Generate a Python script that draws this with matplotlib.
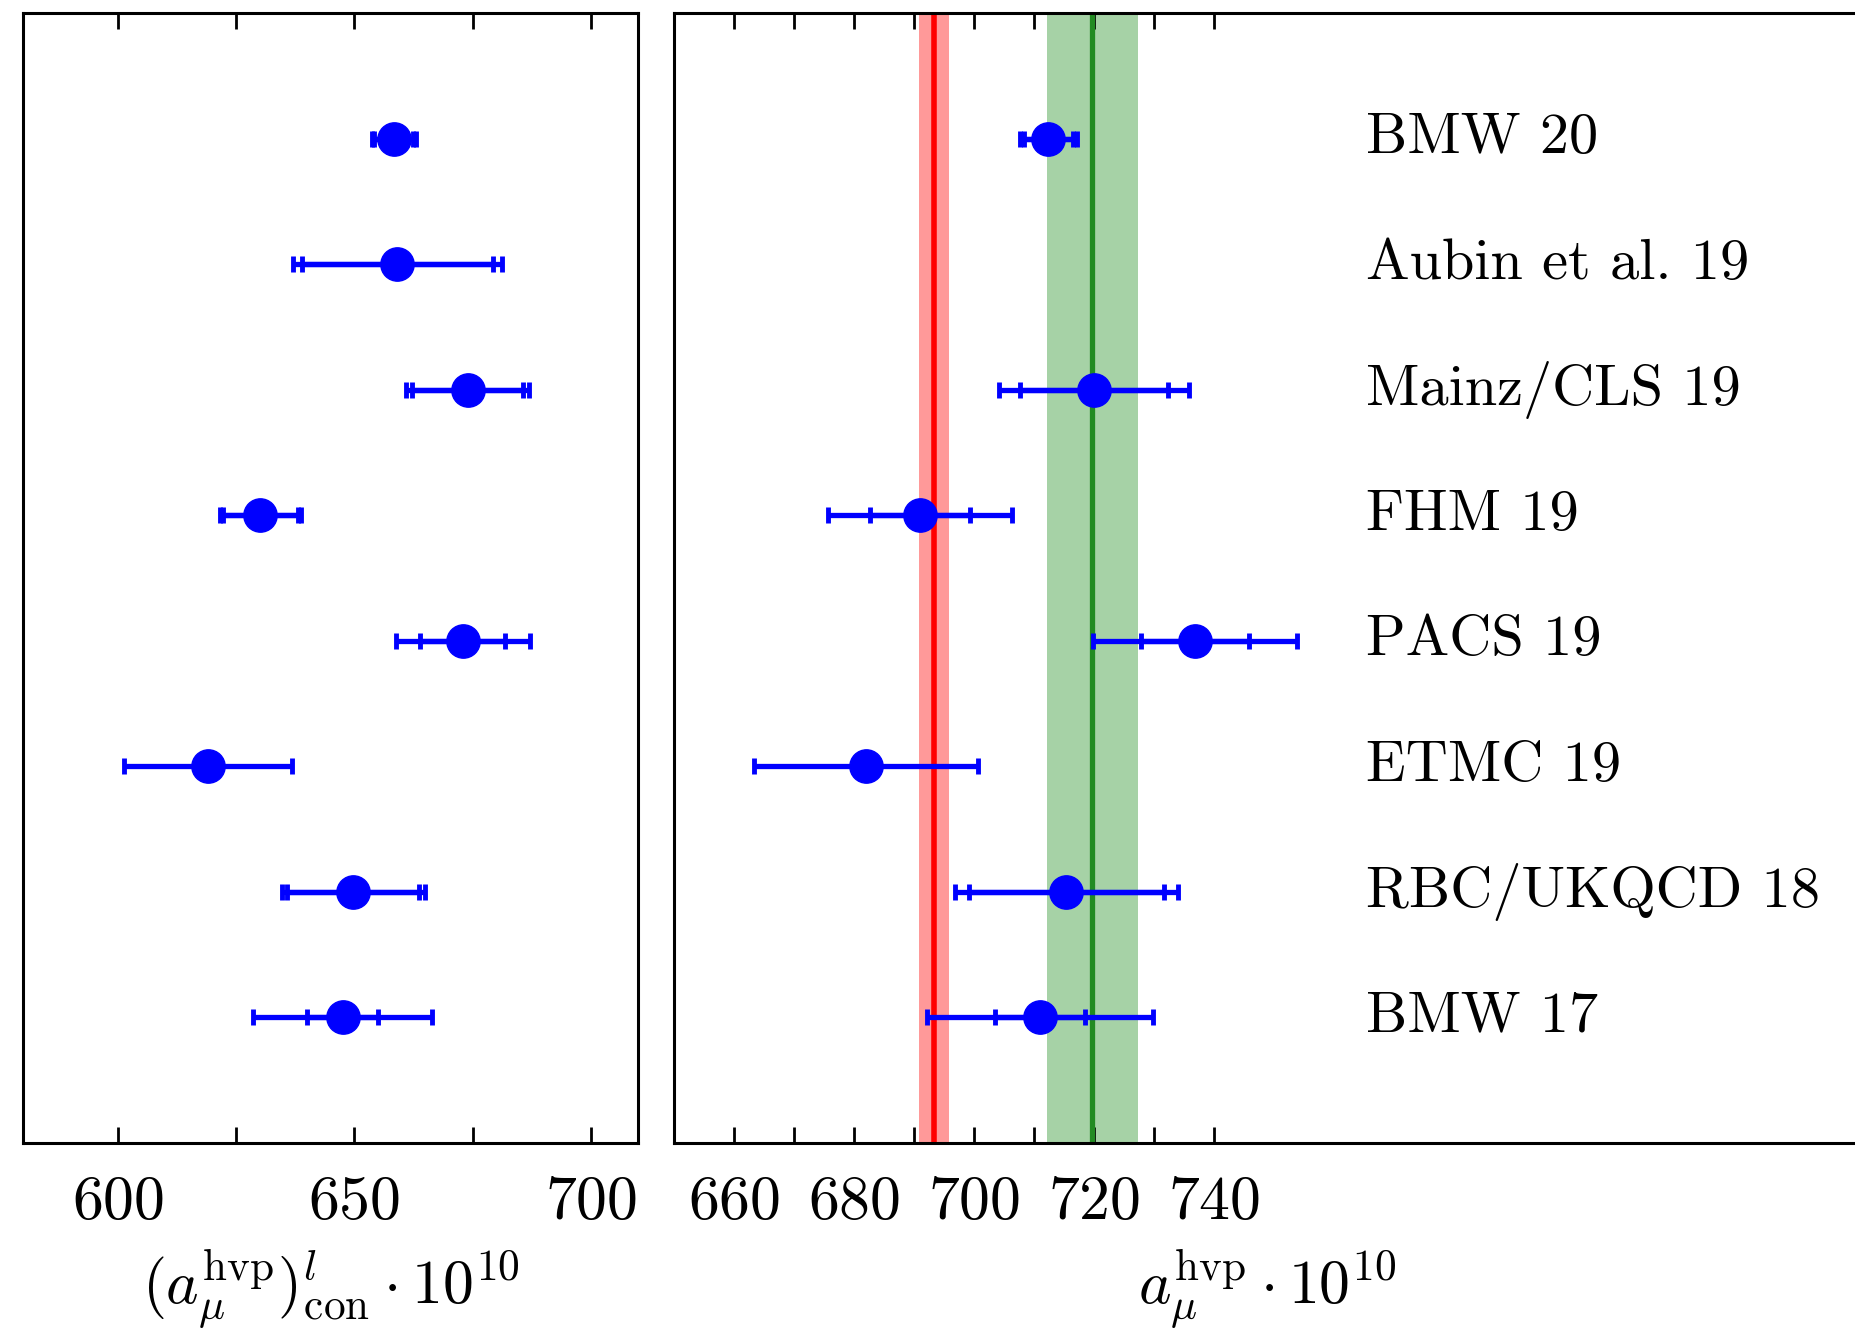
import matplotlib
matplotlib.use("Agg")
import matplotlib.pyplot as plt
import numpy as np

plt.rcParams["font.family"] = "serif"
plt.rcParams["font.serif"] = ["cmr10"]
plt.rcParams["mathtext.fontset"] = "cm"
plt.rcParams["axes.formatter.use_mathtext"] = True

# resultados de rede, de cima para baixo
nomes = ["BMW 20", "Aubin et al. 19", "Mainz/CLS 19", "FHM 19",
         "PACS 19", "ETMC 19", "RBC/UKQCD 18", "BMW 17"]
posicao_y = [8, 7, 6, 5, 4, 3, 2, 1]

# painel esquerdo: contribuicao light conectada
luz_valor = [658.3, 659.0, 673.9, 630.1, 672.9, 619.0, 649.7, 647.5]
luz_estat = [4.1, 20.2, 11.8, 7.9, 9.0, np.nan, 14.0, 7.5]
luz_total = [4.7, 22.1, 13.0, 8.5, 14.1, 17.8, 15.1, 18.9]

# painel direito: a_mu^hvp total
hvp_valor = [712.4, np.nan, 720.0, 691.0, 736.8, 682.0, 715.4, 711.0]
hvp_estat = [4.1, np.nan, 12.4, 8.3, 9.0, np.nan, 16.3, 7.5]
hvp_total = [4.8, np.nan, 15.9, 15.35, 17.0, 18.6, 18.6, 18.9]

# bandas verticais
razao_r_valor, razao_r_erro = 693.3, 2.5
sem_np_valor, sem_np_erro = 719.7, 7.6

tam_font = 44.5
tam_nomes = 42
estilo_barra = dict(ecolor="blue", elinewidth=3.8, capsize=6, capthick=3.5)

fig = plt.figure(figsize=(18.56, 13.29), dpi=100)
ax1 = fig.add_axes([0.01257, 0.14018, 0.33136, 0.84982])
ax2 = fig.add_axes([0.3631, 0.14018, 1.002 - 0.3631, 0.84982])


def desenha(ax, valor, estat, total):
    valor = np.array(valor)
    estat = np.array(estat)
    total = np.array(total)
    y = np.array(posicao_y)
    m = ~np.isnan(estat) & ~np.isnan(valor)
    ax.errorbar(valor[m], y[m], xerr=estat[m], fmt="none", zorder=3, **estilo_barra)
    m = ~np.isnan(valor)
    ax.errorbar(valor[m], y[m], xerr=total[m], fmt="o", color="blue",
                ms=24, mec="blue", zorder=4, **estilo_barra)


desenha(ax1, luz_valor, luz_estat, luz_total)
desenha(ax2, hvp_valor, hvp_estat, hvp_total)

ax2.axvspan(razao_r_valor - razao_r_erro, razao_r_valor + razao_r_erro,
            color="red", alpha=0.4, lw=0, zorder=1)
ax2.axvline(razao_r_valor, color="red", lw=4, zorder=2)
ax2.axvspan(sem_np_valor - sem_np_erro, sem_np_valor + sem_np_erro,
            color="green", alpha=0.35, lw=0, zorder=1)
ax2.axvline(sem_np_valor, color="forestgreen", lw=3.8, zorder=2)

for nome, y in zip(nomes, posicao_y):
    ax2.text(765.4, y, nome, ha="left", va="center", fontsize=tam_nomes)

ax1.set_xlim(580, 710)
ax2.set_xlim(650, 650 + (1.002 - 0.3631) * 1856 / 6)
for ax in (ax1, ax2):
    ax.set_ylim(0, 9)
    ax.set_yticks([])
    for s in ax.spines.values():
        s.set_linewidth(2.2)
    ax.tick_params(axis="x", which="both", direction="in", top=True,
                   length=11.5, width=2.0, pad=23.5, labelsize=tam_font)

ax1.set_xticks([600, 650, 700])
ax1.set_xticks([625, 675], minor=True)
ax2.set_xticks([660, 680, 700, 720, 740])
ax2.set_xticks([670, 690, 710, 730], minor=True)
ax2.spines["right"].set_visible(False)

ax1.set_xlabel(r"$(a_\mu^{\mathrm{hvp}})^{l}_{\mathrm{con}}\cdot 10^{10}$",
               fontsize=tam_font, labelpad=12)
ax2.set_xlabel(r"$a_\mu^{\mathrm{hvp}}\cdot 10^{10}$", fontsize=tam_font, labelpad=12)

fig.savefig("out.png", dpi=100)
